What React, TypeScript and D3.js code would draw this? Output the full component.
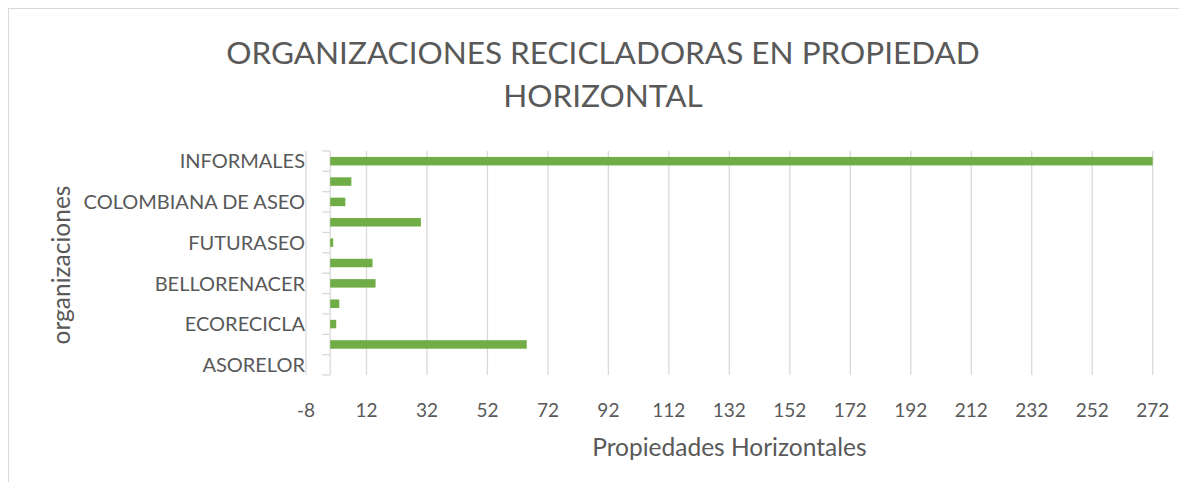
import React from "react";
import * as d3 from "d3";

// Categories bottom -> top (labels not shown in the source are null)
const categories: (string | null)[] = [
  "ASORELOR",
  null,
  "ECORECICLA",
  null,
  "BELLORENACER",
  null,
  "FUTURASEO",
  null,
  "COLOMBIANA DE ASEO",
  null,
  "INFORMALES",
];
const values: number[] = [0, 65, 2, 3, 15, 14, 1, 30, 5, 7, 272];
const xTicks: number[] = [-8, 12, 32, 52, 72, 92, 112, 132, 152, 172, 192, 212, 232, 252, 272];
const titleLines: string[] = ["ORGANIZACIONES RECICLADORAS EN PROPIEDAD", "HORIZONTAL"];
const xTitle = "Propiedades Horizontales";
const yTitle = "organizaciones";

const W = 1187;
const H = 490;
const FONT = "Lato, 'Open Sans', sans-serif";
const TEXT = "#595959";
const GRID = "#d9d9d9";
const BAR = "#70ad47";

export default function App() {
  const left = 306;
  const right = 1152.7;
  const top = 151;
  const bottom = 375;

  const x = d3.scaleLinear().domain([-8, 272]).range([left, right]);
  const idx = categories.map((_, i) => String(i));
  const y = d3
    .scaleBand<string>()
    .domain(idx.slice().reverse())
    .range([top, bottom])
    .paddingInner(0.583)
    .paddingOuter(0.2915);
  const step = y.step();
  const x0 = x(0);

  return (
    <div style={{ margin: -8 }}>
      <svg width={W} height={H} style={{ display: "block", background: "#fff" }}>
        <rect x={8.5} y={8.5} width={W + 10} height={H + 10} fill="#fff" stroke={GRID} strokeWidth={1} />
        {titleLines.map((t, i) => (
          <text
            key={i}
            x={603}
            y={64 + i * 43}
            textAnchor="middle"
            fontFamily={FONT}
            fontSize={31.5}
            fill={TEXT}
          >
            {t}
          </text>
        ))}
        {xTicks.map((t) => (
          <line key={"g" + t} x1={x(t)} x2={x(t)} y1={top} y2={bottom} stroke={GRID} strokeWidth={1.3} />
        ))}
        <line x1={x0} x2={x0} y1={top} y2={bottom} stroke={GRID} strokeWidth={1.3} />
        {d3.range(categories.length + 1).map((i) => (
          <line
            key={"t" + i}
            x1={x0 - 8}
            x2={x0}
            y1={top + i * step}
            y2={top + i * step}
            stroke={GRID}
            strokeWidth={1.3}
          />
        ))}
        {values.map((v, i) => (
          <rect
            key={"b" + i}
            x={x(Math.min(0, v))}
            y={y(String(i))}
            width={Math.abs(x(v) - x0)}
            height={y.bandwidth()}
            fill={BAR}
          />
        ))}
        {categories.map((c, i) =>
          c ? (
            <text
              key={"c" + i}
              x={305}
              y={(y(String(i)) as number) + y.bandwidth() / 2}
              dy="0.36em"
              textAnchor="end"
              fontFamily={FONT}
              fontSize={20}
              fill={TEXT}
            >
              {c}
            </text>
          ) : null
        )}
        {xTicks.map((t) => (
          <text
            key={"l" + t}
            x={x(t)}
            y={417}
            textAnchor="middle"
            fontFamily={FONT}
            fontSize={19}
            fill={TEXT}
          >
            {t}
          </text>
        ))}
        <text x={(left + right) / 2} y={456} textAnchor="middle" fontFamily={FONT} fontSize={24.5} fill={TEXT}>
          {xTitle}
        </text>
        <text
          transform={`translate(70, ${(top + bottom) / 2 + 2}) rotate(-90)`}
          textAnchor="middle"
          fontFamily={FONT}
          fontSize={24.5}
          fill={TEXT}
        >
          {yTitle}
        </text>
      </svg>
    </div>
  );
}
